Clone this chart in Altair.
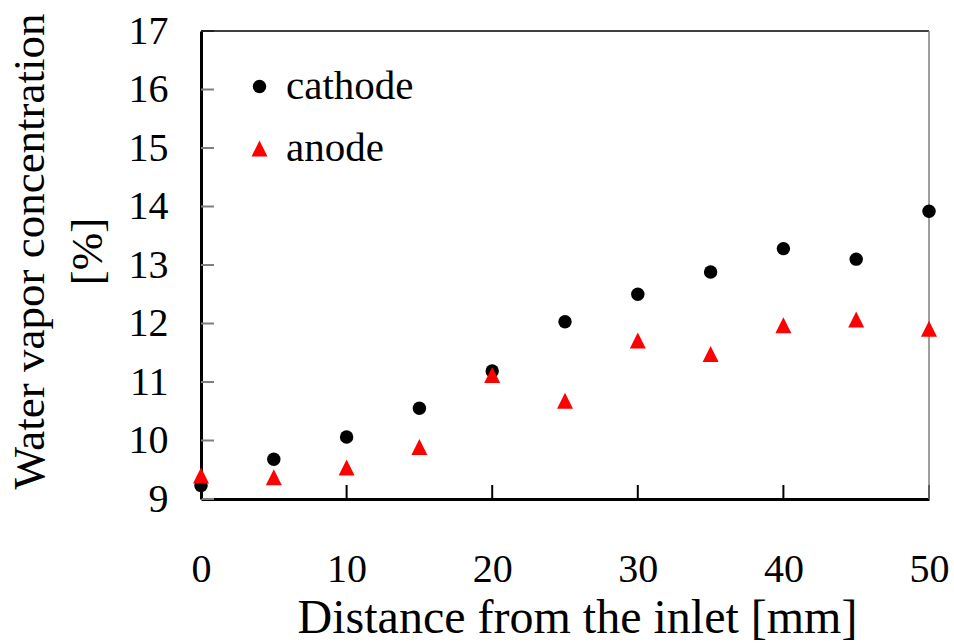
import altair as alt
import pandas as pd

# Measurements along the channel
distance_mm = [0, 5, 10, 15, 20, 25, 30, 35, 40, 45, 50]
cathode_pct = [9.23, 9.68, 10.06, 10.55, 11.19, 12.03, 12.50, 12.88, 13.28, 13.10, 13.92]
anode_pct = [9.40, 9.37, 9.54, 9.89, 11.12, 10.68, 11.71, 11.48, 11.97, 12.07, 11.91]

series_names = ["cathode", "anode"]
series_colors = ["#000000", "#ff0000"]
series_shapes = ["circle", "M0,-1L1,1L-1,1Z"]
series_sizes = [180, 256]

x_ticks = [0, 10, 20, 30, 40, 50]
y_ticks = [9, 10, 11, 12, 13, 14, 15, 16, 17]

W, H = 728, 468
SERIF = "Liberation Serif"

df = pd.DataFrame({
    "distance": distance_mm * 2,
    "value": cathode_pct + anode_pct,
    "series": ["cathode"] * len(distance_mm) + ["anode"] * len(distance_mm),
    "order": [0] * len(distance_mm) + [1] * len(distance_mm),
})

x_scale = alt.Scale(domain=[0, 50], nice=False, zero=False)
y_scale = alt.Scale(domain=[9, 17], nice=False, zero=False)

x_axis = alt.Axis(title="Distance from the inlet [mm]", values=x_ticks, format="d",
                  ticks=False, grid=False, labelFlush=False, labelPadding=82,
                  labelBaseline="alphabetic",
                  titleBaseline="alphabetic", titleY=133, titleX=376, titleAlign="center",
                  titleFontSize=48)
y_axis = alt.Axis(title=["Water vapor concentration", "[%]"], values=y_ticks, format="d",
                  ticks=False, grid=False, labelFlush=False, labelPadding=33,
                  titleAngle=270, titleBaseline="alphabetic",
                  titleX=-158, titleY=220, titleAlign="center",
                  titleLineHeight=58, titleFontSize=45)

legend = alt.Legend(title=None, orient="none", legendX=38, legendY=35,
                    labelFont=SERIF, labelFontSize=41, labelColor="#000",
                    labelOffset=6, rowPadding=20, padding=0, symbolStrokeWidth=0)

points = alt.Chart(df).mark_point(filled=True, opacity=1).encode(
    x=alt.X("distance:Q", scale=x_scale, axis=x_axis),
    y=alt.Y("value:Q", scale=y_scale, axis=y_axis),
    color=alt.Color("series:N", scale=alt.Scale(domain=series_names, range=series_colors),
                    legend=legend),
    shape=alt.Shape("series:N", scale=alt.Scale(domain=series_names, range=series_shapes),
                    legend=legend),
    size=alt.Size("series:N", scale=alt.Scale(domain=series_names, range=series_sizes),
                  legend=legend),
    order=alt.Order("order:Q"),
)

# Inward tick marks on the left and bottom axes
y_tick_df = pd.DataFrame({"v": y_ticks})
x_tick_df = pd.DataFrame({"v": x_ticks})

y_tick_rules = alt.Chart(y_tick_df).mark_rule(color="#7f7f7f", strokeWidth=2).encode(
    y=alt.Y("v:Q", scale=y_scale, axis=y_axis), x=alt.value(0), x2=alt.value(13)
)
x_tick_rules = alt.Chart(x_tick_df).mark_rule(color="#000000", strokeWidth=2).encode(
    x=alt.X("v:Q", scale=x_scale, axis=x_axis), y=alt.value(H), y2=alt.value(H - 14)
)

# Top and right borders of the plot frame
top_border = alt.Chart(pd.DataFrame({"a": [0]})).mark_rule(color="#000000", strokeWidth=1.5).encode(
    x=alt.value(0), x2=alt.value(W), y=alt.value(0)
)
right_border = alt.Chart(pd.DataFrame({"a": [0]})).mark_rule(color="#7f7f7f", strokeWidth=1.5).encode(
    x=alt.value(W), y=alt.value(0), y2=alt.value(H)
)

chart = alt.layer(y_tick_rules, x_tick_rules, top_border, right_border, points).properties(
    width=W, height=H,
    background="#ffffff",
    autosize=alt.AutoSizeParams(type="none"),
    padding={"left": 201, "top": 31, "right": 25, "bottom": 145},
).configure_view(stroke=None).configure_axis(
    domainColor="#000000", domainWidth=3,
    labelFont=SERIF, labelFontSize=40, labelColor="#000000",
    titleFont=SERIF, titleColor="#000000", titleFontWeight="normal",
    grid=False,
)

chart.save("out.html", embed_options={"renderer": "svg", "actions": False})
